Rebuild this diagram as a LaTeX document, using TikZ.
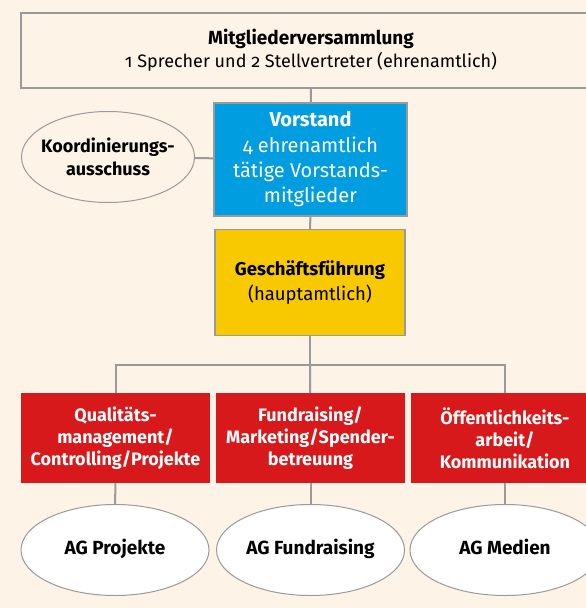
\documentclass[tikz,border=0pt]{standalone}
\usepackage{fontspec}
\setmainfont{Fira Sans}[Numbers=OldStyle]
\usetikzlibrary{shapes.geometric}
\definecolor{creme}{HTML}{FEF3E7}
\definecolor{linegray}{HTML}{9A9A9A}
\definecolor{vblue}{HTML}{009EE0}
\definecolor{gfyellow}{HTML}{F9C900}
\definecolor{agred}{HTML}{D7191C}
\begin{document}
\begin{tikzpicture}[x=1pt,y=-1pt,
    box/.style={draw=linegray,line width=1.5pt,align=center,inner sep=0pt},
    redbox/.style={fill=agred,text=white,align=center,inner sep=0pt,
        minimum width=189pt,minimum height=90pt,
        font=\bfseries\fontsize{18}{22}\selectfont},
    oval/.style={ellipse,draw=linegray,line width=1pt,fill=white,inner sep=0pt,
        minimum width=188pt,minimum height=91pt,align=center,
        font=\bfseries\fontsize{19}{23}\selectfont},
    agoval/.style={oval,text height=13.5pt,text depth=4.5pt},
    conn/.style={draw=linegray,line width=2pt}]
    \fill[creme] (0,0) rectangle (586,608);
    \useasboundingbox (0,0) rectangle (586,608);
    % oben
    \node[box,minimum width=580pt,minimum height=75pt,
        font=\fontsize{18}{23}\selectfont] (mv) at (311,50.5)
        {\textbf{\fontsize{19}{23}\selectfont Mitgliederversammlung}\\1 Sprecher und 2 Stellvertreter (ehrenamtlich)};
    \node[box,fill=vblue,text=white,minimum width=193pt,minimum height=113pt,
        font=\fontsize{20}{25}\selectfont] (vs) at (310.5,159.5)
        {\textbf{Vorstand}\\[1pt]4 ehrenamtlich\\tätige Vorstands-\\mitglieder};
    \node[oval,fill=creme,minimum width=173pt,inner xsep=-12pt,
        font=\bfseries\fontsize{18}{23}\selectfont] (ka) at (108,157)
        {Koordinierungs-\\ausschuss};
    \node[box,fill=gfyellow,minimum width=190pt,minimum height=106pt,
        font=\fontsize{18.5}{25}\selectfont] (gf) at (310,282.5)
        {\textbf{Geschäftsführung}\\(hauptamtlich)};
    % Abteilungen
    \node[redbox] (qm) at (115.5,438) {Qualitäts-\\management/\\Controlling/Projekte};
    \node[redbox] (fr) at (310.5,438) {Fundraising/\\Marketing/Spender-\\betreuung};
    \node[redbox] (oe) at (505,438) {Öffentlichkeits-\\arbeit/\\Kommunikation};
    % AGs
    \node[agoval] (agp) at (115,550) {AG Projekte};
    \node[agoval] (agf) at (310.5,550) {AG Fundraising};
    \node[agoval,minimum width=190pt] (agm) at (505,550) {AG Medien};
    \path (115,365) coordinate (hl) (505,365) coordinate (hr);
    \draw[conn] (mv) -- (vs);
    \draw[conn] (ka) -- (vs);
    \draw[conn] (vs) -- (gf);
    \draw[conn] (gf) -- (gf |- hl);
    \draw[conn] (qm) |- (hl) -- (hr) -| (oe);
    \draw[conn] (gf |- hl) -- (fr);
    \draw[conn] (qm) -- (agp);
    \draw[conn] (fr) -- (agf);
    \draw[conn] (oe) -- (agm);
\end{tikzpicture}
\end{document}
